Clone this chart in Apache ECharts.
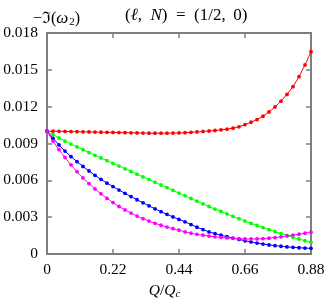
<!DOCTYPE html>
<html><head><meta charset="utf-8">
<script src="https://cdn.jsdelivr.net/npm/echarts@6/dist/echarts.min.js"></script>
<style>html,body{margin:0;padding:0;background:#fff}#c{width:329px;height:300px}</style>
</head><body><div id="c"></div>
<script>
var qValues = [0,0.02,0.04,0.06,0.08,0.10,0.12,0.14,0.16,0.18,0.20,0.22,0.24,0.26,0.28,0.30,0.32,0.34,0.36,0.38,0.40,0.42,0.44,0.46,0.48,0.50,0.52,0.54,0.56,0.58,0.60,0.62,0.64,0.66,0.68,0.70,0.72,0.74,0.76,0.78,0.80,0.82,0.84,0.86,0.88];
var redValues = [0.01000,0.01000,0.00999,0.00998,0.00997,0.00996,0.00995,0.00994,0.00993,0.00992,0.00991,0.00990,0.00989,0.00988,0.00987,0.00986,0.00985,0.00984,0.00984,0.00984,0.00984,0.00985,0.00986,0.00988,0.00991,0.00994,0.00998,0.01002,0.01006,0.01011,0.01017,0.01025,0.01036,0.01054,0.01073,0.01095,0.01122,0.01157,0.01198,0.01245,0.01300,0.01363,0.01444,0.01540,0.01648];
var greenValues = [0.01000,0.00972,0.00945,0.00919,0.00895,0.00872,0.00849,0.00826,0.00804,0.00782,0.00760,0.00738,0.00716,0.00694,0.00672,0.00650,0.00628,0.00606,0.00584,0.00562,0.00540,0.00518,0.00496,0.00474,0.00452,0.00430,0.00408,0.00387,0.00366,0.00346,0.00326,0.00306,0.00287,0.00268,0.00250,0.00232,0.00215,0.00198,0.00182,0.00166,0.00151,0.00136,0.00122,0.00108,0.00095];
var blueValues = [0.01000,0.00942,0.00888,0.00838,0.00793,0.00752,0.00713,0.00676,0.00641,0.00608,0.00577,0.00549,0.00521,0.00494,0.00468,0.00442,0.00417,0.00392,0.00368,0.00345,0.00323,0.00302,0.00282,0.00262,0.00240,0.00218,0.00199,0.00180,0.00166,0.00153,0.00141,0.00130,0.00119,0.00108,0.00098,0.00089,0.00081,0.00074,0.00068,0.00063,0.00058,0.00054,0.00051,0.00048,0.00046];
var magentaValues = [0.01000,0.00920,0.00850,0.00786,0.00726,0.00670,0.00620,0.00573,0.00530,0.00490,0.00453,0.00419,0.00387,0.00359,0.00333,0.00309,0.00288,0.00268,0.00250,0.00234,0.00219,0.00206,0.00194,0.00180,0.00169,0.00160,0.00153,0.00146,0.00140,0.00135,0.00131,0.00128,0.00125,0.00123,0.00122,0.00123,0.00125,0.00129,0.00134,0.00140,0.00147,0.00154,0.00161,0.00169,0.00178];
var xTicks = ['0','0.22','0.44','0.66','0.88'];
var yTicks = ['0','0.003','0.006','0.009','0.012','0.015','0.018'];

function pairs(v){ return qValues.map(function(q,i){ return [q, v[i]]; }); }
var FONT = '"Liberation Serif", "DejaVu Serif", serif';
var axisColor = '#7f7f7f';
var lineStyle = {color: axisColor, width: 2};
function xAxisDef(pos, show){
  return {type:'value', position:pos, min:0, max:0.88, interval:0.22,
    axisLine:{show:true, onZero:false, lineStyle:lineStyle},
    axisTick:{show:true, inside:true, length:5, lineStyle:{color:axisColor, width:1.5}},
    splitLine:{show:false},
    axisLabel:{show:show, margin:8, color:'#000', fontFamily:FONT, fontSize:15.5,
      formatter:function(v){ var i=Math.round(v/0.22); return xTicks[i]; }}};
}
function yAxisDef(pos, show){
  return {type:'value', position:pos, min:0, max:0.018, interval:0.003,
    axisLine:{show:true, onZero:false, lineStyle:lineStyle},
    axisTick:{show:true, inside:true, length:5, lineStyle:{color:axisColor, width:1.5}},
    splitLine:{show:false},
    axisLabel:{show:show, margin:9, color:'#000', fontFamily:FONT, fontSize:15.5,
      formatter:function(v){ var i=Math.round(v/0.003); return yTicks[i]; }}};
}
function ser(name, vals, color){
  return {name:name, type:'line', data:pairs(vals), xAxisIndex:0, yAxisIndex:0,
    symbol:'circle', symbolSize:3.8, showSymbol:true,
    lineStyle:{color:color, width:1}, itemStyle:{color:color}, animation:false, z:3};
}
var base = {fontFamily:FONT, fontSize:16, color:'#000', fontWeight:'normal'};
function st(extra){ var o={}; for(var k in base) o[k]=base[k]; for(var k2 in extra) o[k2]=extra[k2]; return o; }
var chart = echarts.init(document.getElementById('c'), null, {renderer:'canvas'});
chart.setOption({
  animation:false,
  grid:{left:47, right:18, top:33, bottom:46},
  xAxis:[xAxisDef('bottom', true), xAxisDef('top', false)],
  yAxis:[yAxisDef('left', true), yAxisDef('right', false)],
  title:[
    {text:'{a|−ℑ(}{i|ω}{s|2}{a|)}', left:28, top:5,
     textStyle:{fontWeight:'normal', rich:{a:st({}), i:st({fontStyle:'italic', fontSize:17}),
                      s:st({fontSize:11, padding:[7,0,0,1]})}}},
    {text:'{a|(}{i|ℓ}{a|,\u2002}{i|N}{a|)\u2002=\u2002(1/2,\u2009 0)}', left:120, top:2,
     textStyle:{fontWeight:'normal', rich:{a:st({fontSize:17}), i:st({fontStyle:'italic', fontSize:17})}}},
    {text:'{i|Q}{a|/}{i|Q}{s|c}', left:'center', top:277,
     textStyle:{fontWeight:'normal', rich:{a:st({fontSize:15.5}), i:st({fontStyle:'italic', fontSize:15.5}),
                      s:st({fontStyle:'italic', fontSize:11, padding:[7,0,0,0]})}}}
  ],
  series:[
    ser('red', redValues, '#ff0000'),
    ser('green', greenValues, '#00ff00'),
    ser('blue', blueValues, '#0000ff'),
    ser('magenta', magentaValues, '#ff00ff')
  ]
});
</script></body></html>
